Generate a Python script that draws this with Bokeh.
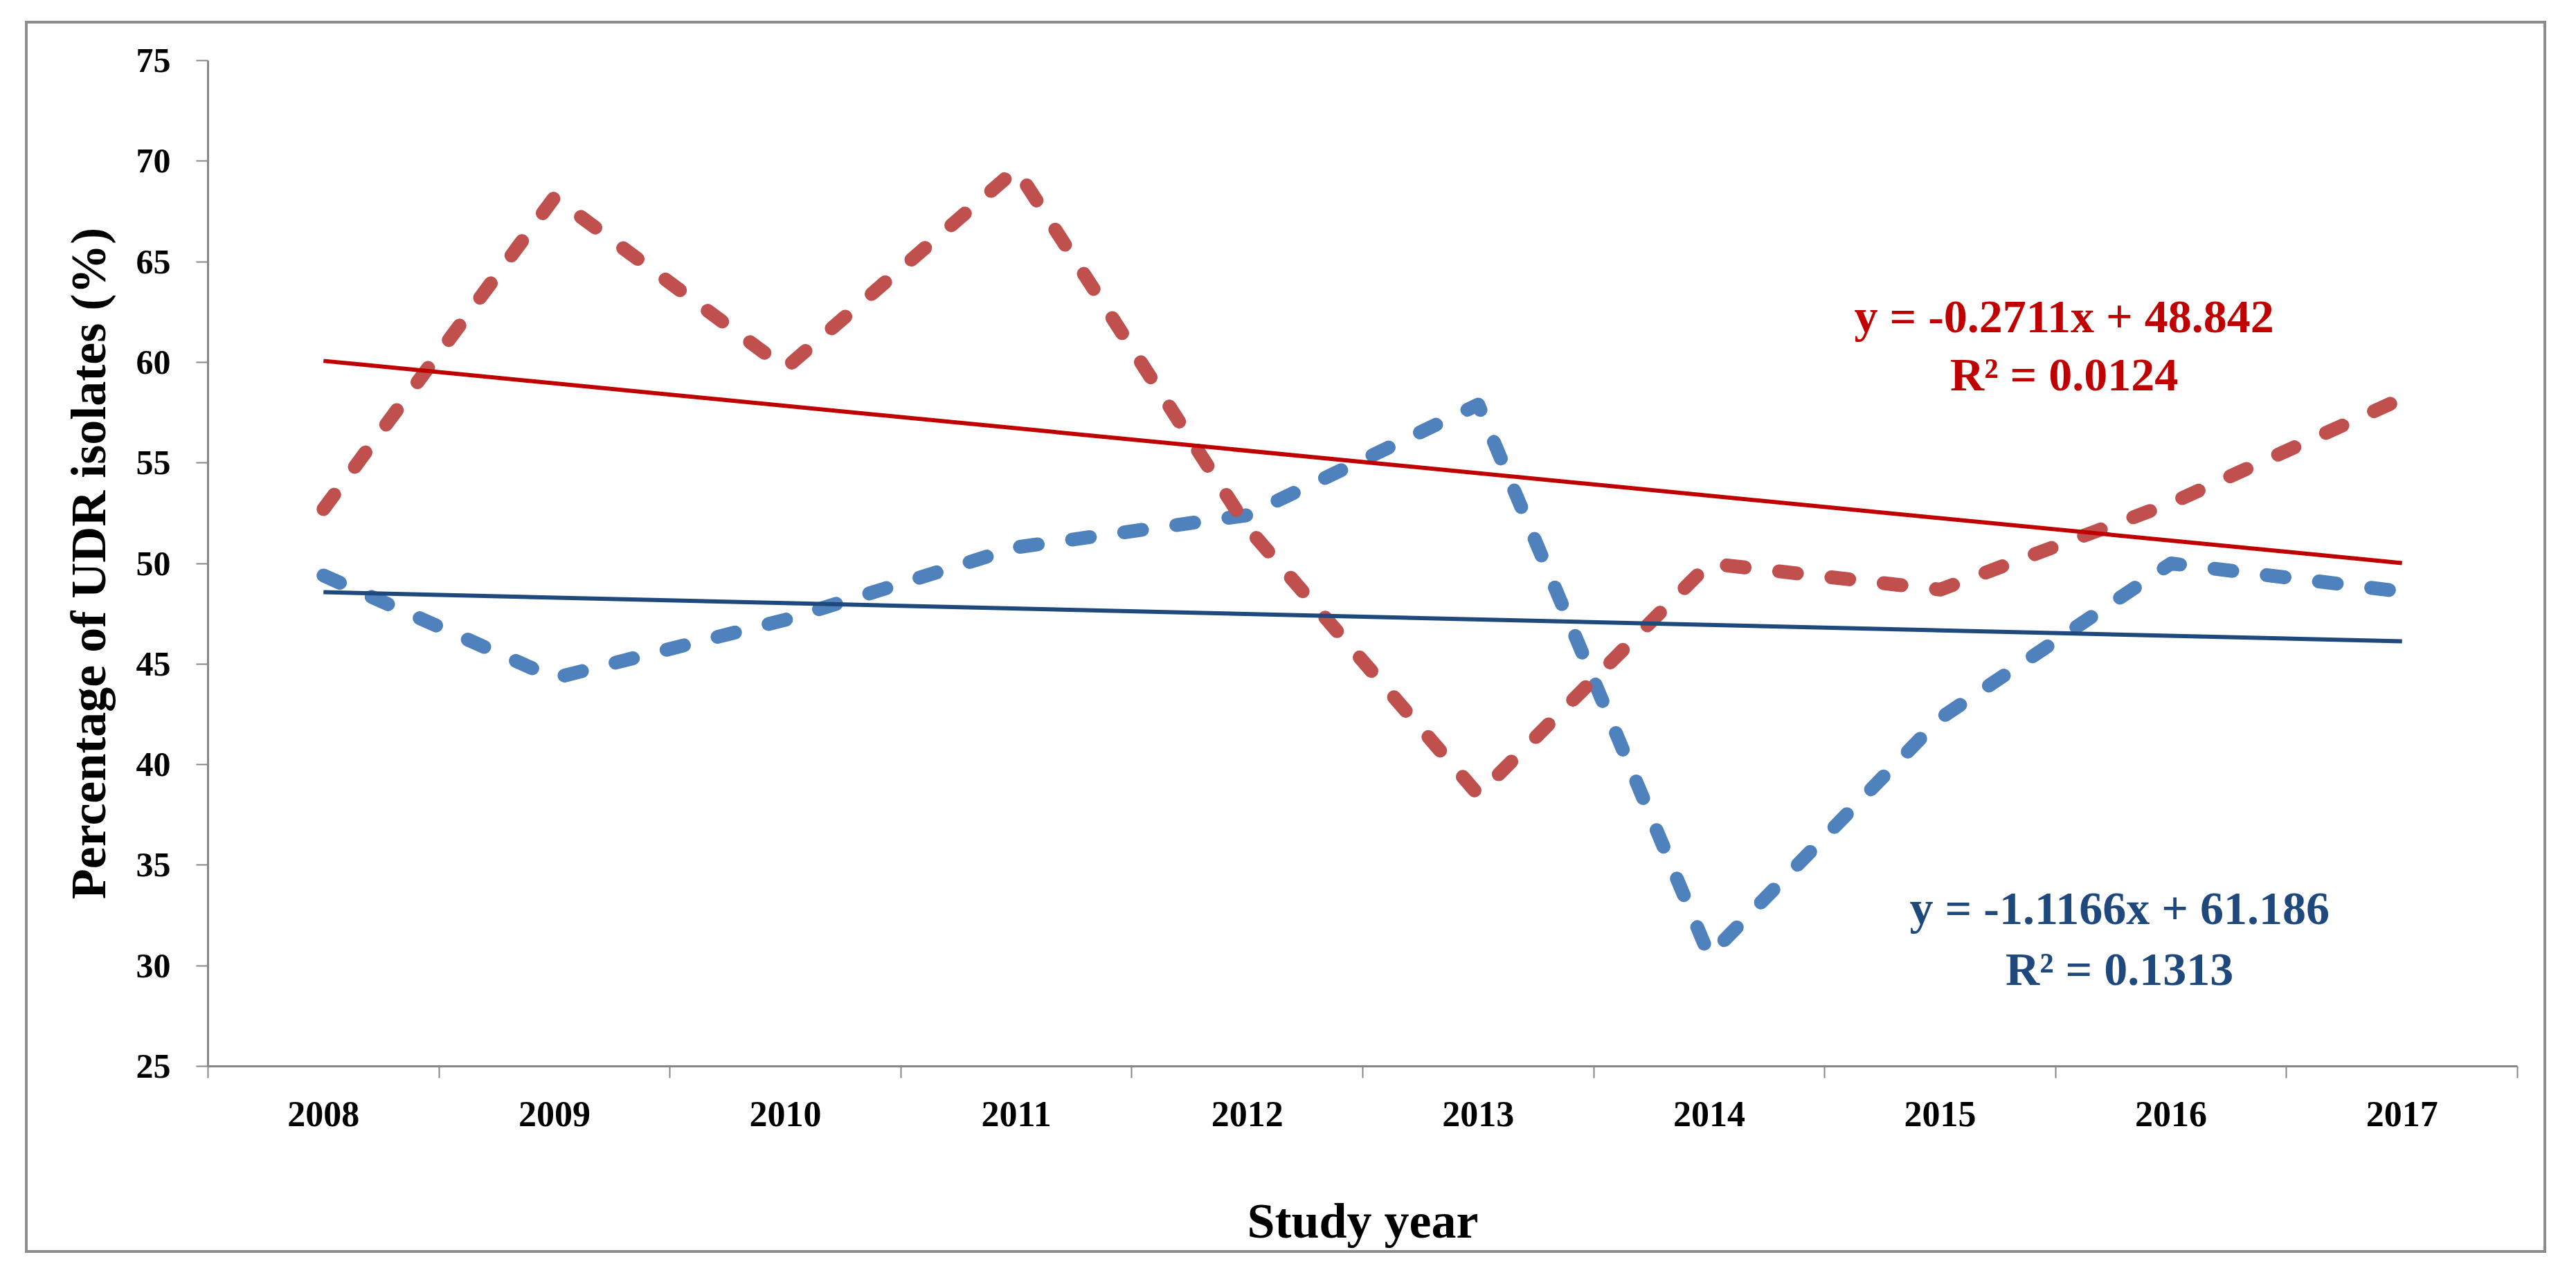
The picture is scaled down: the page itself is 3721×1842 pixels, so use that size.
from bokeh.plotting import figure
from bokeh.models import FixedTicker, Label
from bokeh.layouts import column
from bokeh.embed import file_html
from bokeh.resources import INLINE

# ---- data ----
years = ["2008", "2009", "2010", "2011", "2012", "2013", "2014", "2015", "2016", "2017"]
red_values = [52.7, 68.2, 59.7, 69.6, 51.8, 38.5, 50.0, 48.7, 53.0, 58.2]
blue_values = [49.4, 44.3, 47.2, 50.8, 52.4, 57.9, 30.5, 42.3, 50.0, 48.6]
red_trend_coef = [-1.1166, 61.186]   # slope, intercept (x = 1..10)
blue_trend_coef = [-0.2711, 48.842]
y_ticks = [25, 30, 35, 40, 45, 50, 55, 60, 65, 70, 75]
red_eq_lines = ["y = -0.2711x + 48.842", "R\u00b2 = 0.0124"]
blue_eq_lines = ["y = -1.1166x + 61.186", "R\u00b2 = 0.1313"]

FONT = "Liberation Serif"
AXIS_GRAY = "#868686"

idx = list(range(len(years)))

p = figure(width=3634, height=1772, x_range=(-0.5, 9.5), y_range=(25, 75),
           output_backend="svg", toolbar_location=None,
           min_border_left=260, min_border_right=38, min_border_top=53, min_border_bottom=261)
p.background_fill_color = "white"
p.border_fill_color = "white"
p.outline_line_color = None
p.xgrid.visible = False
p.ygrid.visible = False

# x axis: labels at category centres, tick marks at category boundaries
xa = p.xaxis[0]
xa.ticker = FixedTicker(ticks=idx, minor_ticks=[i - 0.5 for i in range(len(years) + 1)])
xa.major_label_overrides = {i: y for i, y in zip(idx, years)}
xa.major_tick_out = 0
xa.major_tick_in = 0
xa.minor_tick_out = 17
xa.minor_tick_in = 0
xa.minor_tick_line_color = AXIS_GRAY
xa.minor_tick_line_width = 2
xa.axis_line_color = AXIS_GRAY
xa.axis_line_width = 3
xa.major_label_text_font = FONT
xa.major_label_text_font_style = "bold"
xa.major_label_text_font_size = "52px"
xa.major_label_text_color = "black"
xa.major_label_standoff = 34
xa.axis_label = "Study year"
xa.axis_label_text_font = FONT
xa.axis_label_text_font_style = "bold"
xa.axis_label_text_font_size = "72px"
xa.axis_label_text_color = "black"
xa.axis_label_standoff = 94

ya = p.yaxis[0]
ya.ticker = FixedTicker(ticks=y_ticks)
ya.major_tick_out = 17
ya.major_tick_in = 0
ya.major_tick_line_color = AXIS_GRAY
ya.major_tick_line_width = 2
ya.minor_tick_out = 0
ya.minor_tick_in = 0
ya.axis_line_color = AXIS_GRAY
ya.axis_line_width = 3
ya.major_label_text_font = FONT
ya.major_label_text_font_style = "bold"
ya.major_label_text_font_size = "50px"
ya.major_label_text_color = "black"
ya.major_label_standoff = 37
ya.axis_label = "Percentage of UDR isolates (%)"
ya.axis_label_text_font = FONT
ya.axis_label_text_font_style = "bold"
ya.axis_label_text_font_size = "72px"
ya.axis_label_text_color = "black"
ya.axis_label_standoff = 26

# dashed series
p.line(idx, blue_values, line_color="#4F81BD", line_width=20, line_dash="26 50",
       line_cap="round", line_join="round")
p.line(idx, red_values, line_color="#C0504D", line_width=20, line_dash="26 50",
       line_cap="round", line_join="round")

# linear trend lines
tx = [idx[0], idx[-1]]
blue_ty = [blue_trend_coef[0] * (i + 1) + blue_trend_coef[1] for i in tx]
red_ty = [red_trend_coef[0] * (i + 1) + red_trend_coef[1] for i in tx]
p.line(tx, blue_ty, line_color="#1F497D", line_width=6)
p.line(tx, red_ty, line_color="#C00000", line_width=6)

# equation labels
for txt, yy in zip(red_eq_lines, [62.3, 59.4]):
    p.add_layout(Label(x=7.537, y=yy, text=txt, text_align="center", text_baseline="alphabetic",
                       text_font=FONT, text_font_style="bold", text_font_size="68px",
                       text_color="#C00000"))
for txt, yy in zip(blue_eq_lines, [32.85, 29.85]):
    p.add_layout(Label(x=7.777, y=yy, text=txt, text_align="center", text_baseline="alphabetic",
                       text_font=FONT, text_font_style="bold", text_font_size="68px",
                       text_color="#1F497D"))

layout = column(p, margin=(30, 0, 0, 36), styles={"border": "4px solid #8c8c8c"})

open("out.html", "w").write(file_html(layout, INLINE))
